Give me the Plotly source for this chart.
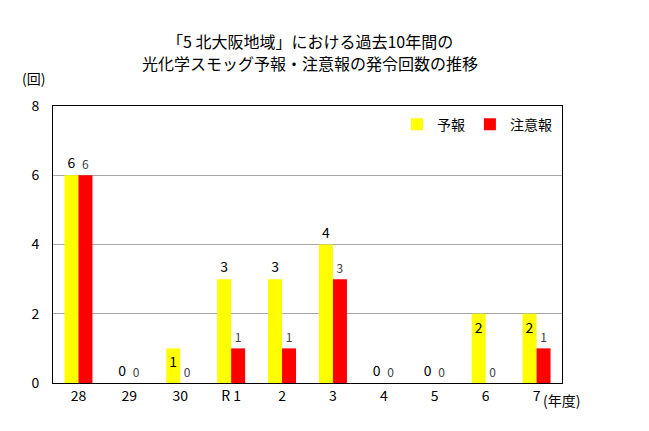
import plotly.graph_objects as go

categories = ["28", "29", "30", "R 1", "2", "3", "4", "5", "6", "7"]
yohou = [6, 0, 1, 3, 3, 4, 0, 0, 2, 2]
chuuihou = [6, 0, 0, 1, 1, 3, 0, 0, 0, 1]
yohou_textpos = ["outside", "outside", "inside", "outside", "outside",
                 "outside", "outside", "outside", "inside", "inside"]
title_lines = ["「5 北大阪地域」における過去10年間の", "光化学スモッグ予報・注意報の発令回数の推移"]

FONT = "Noto Sans CJK JP"

fig = go.Figure()
fig.add_trace(go.Bar(
    x=categories, y=yohou, name="予報",
    marker=dict(color="#FFFF00", line=dict(width=0)),
    text=[str(v) for v in yohou], textposition=yohou_textpos,
    insidetextanchor="end",
    textfont=dict(family=FONT, size=14, color="#000000"),
    cliponaxis=False,
))
fig.add_trace(go.Bar(
    x=categories, y=chuuihou, name="注意報",
    marker=dict(color="#FF0000", line=dict(width=0)),
    text=[str(v) for v in chuuihou], textposition="outside",
    textfont=dict(family=FONT, size=12, color="#404040"),
    cliponaxis=False,
))

fig.update_layout(
    width=649, height=431,
    margin=dict(l=53, r=87, t=106, b=48),
    paper_bgcolor="white", plot_bgcolor="white",
    font=dict(family=FONT, size=14, color="#000000"),
    barmode="group", bargap=0.45, bargroupgap=0,
    showlegend=True,
    legend=dict(orientation="h", x=0.99, y=0.99, xanchor="right", yanchor="top",
                font=dict(family=FONT, size=14), bgcolor="rgba(0,0,0,0)",
                itemwidth=30, traceorder="normal", tracegroupgap=0),
    xaxis=dict(type="category", tickvals=categories, ticktext=categories,
               showline=True, linecolor="black", linewidth=1, mirror=True,
               ticks="", tickfont=dict(family=FONT, size=14)),
    yaxis=dict(range=[0, 8], dtick=2, showline=True, linecolor="black", linewidth=1,
               mirror=True, showgrid=True, gridcolor="#A6A6A6", gridwidth=1,
               zeroline=False, ticks="", ticklabelstandoff=10,
               tickfont=dict(family=FONT, size=14)),
    annotations=[
        dict(text=title_lines[0], xref="paper", yref="paper", x=0.505, y=(383 - 41) / 277,
             xanchor="center", yanchor="middle", showarrow=False, borderpad=0,
             font=dict(family=FONT, size=16)),
        dict(text=title_lines[1], xref="paper", yref="paper", x=0.505, y=(383 - 63) / 277,
             xanchor="center", yanchor="middle", showarrow=False, borderpad=0,
             font=dict(family=FONT, size=16)),
        dict(text="(回)", xref="paper", yref="paper", x=-0.065, y=1.101,
             xanchor="left", yanchor="middle", showarrow=False,
             font=dict(family=FONT, size=14)),
        dict(text="(年度)", xref="paper", yref="paper", x=0.958, y=-0.061,
             xanchor="left", yanchor="middle", showarrow=False,
             font=dict(family=FONT, size=14)),
    ],
)

fig.write_html("out.html")
